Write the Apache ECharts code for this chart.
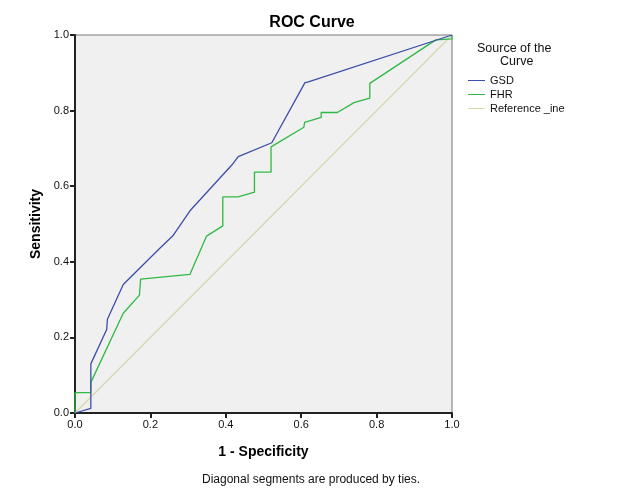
<!DOCTYPE html>
<html>
<head>
<meta charset="utf-8">
<script src="https://cdn.jsdelivr.net/npm/echarts@6/dist/echarts.min.js"></script>
<style>html,body{margin:0;padding:0;background:#fff;}#c{width:622px;height:498px;}</style>
</head>
<body>
<div id="c"></div>
<script>
const gsdX = [0, 0.042, 0.042, 0.084, 0.086, 0.128, 0.225, 0.259, 0.305, 0.416, 0.433, 0.522, 0.610, 0.619, 1];
const gsdY = [0, 0.012, 0.130, 0.221, 0.248, 0.340, 0.436, 0.468, 0.535, 0.656, 0.678, 0.715, 0.874, 0.876, 1];
const fhrX = [0, 0, 0.042, 0.042, 0.128, 0.171, 0.174, 0.305, 0.349, 0.392, 0.392, 0.433, 0.476, 0.476, 0.520, 0.520, 0.607, 0.609, 0.653, 0.653, 0.696, 0.740, 0.782, 0.782, 0.957, 1, 1];
const fhrY = [0, 0.054, 0.054, 0.081, 0.264, 0.312, 0.354, 0.367, 0.468, 0.495, 0.572, 0.572, 0.584, 0.637, 0.637, 0.704, 0.756, 0.769, 0.782, 0.795, 0.795, 0.821, 0.833, 0.872, 0.987, 0.990, 1];
const refX = [0, 1];
const refY = [0, 1];
const ticks = ['0.0', '0.2', '0.4', '0.6', '0.8', '1.0'];

const zip = (xs, ys) => xs.map((x, i) => [x, ys[i]]);
const font = 'Liberation Sans, Arial, sans-serif';
const chart = echarts.init(document.getElementById('c'), null, {renderer: 'canvas'});
const axisCommon = {
  type: 'value', min: 0, max: 1, interval: 0.2,
  axisLine: {show: true, lineStyle: {color: '#222', width: 2}},
  axisTick: {show: true, inside: false, length: 5, lineStyle: {color: '#222', width: 2}},
  axisLabel: {color: '#111', fontSize: 11, fontFamily: font, margin: 6,
    formatter: v => ticks[Math.round(v / 0.2)]},
  splitLine: {show: false},
  nameLocation: 'middle',
  nameTextStyle: {fontWeight: 'bold', fontSize: 14, color: '#000', fontFamily: font}
};
chart.setOption({
  animation: false,
  backgroundColor: '#fff',
  title: {text: 'ROC Curve', left: 307, textAlign: 'center', top: 10,
    textStyle: {fontSize: 16, fontWeight: 'bold', color: '#000', fontFamily: font}},
  grid: {left: 75, top: 35, width: 377, height: 378, show: true,
    backgroundColor: '#f0f0f0', borderColor: '#777', borderWidth: 1},
  xAxis: Object.assign({}, axisCommon, {name: '1 - Specificity', nameGap: 32}),
  yAxis: Object.assign({}, axisCommon, {name: 'Sensitivity', nameGap: 32}),
  legend: {
    orient: 'vertical', left: 463, top: 70, itemWidth: 17, itemHeight: 11, itemGap: 3,
    icon: 'path://M0,5 L17,5 L17,6 L0,6 Z',
    textStyle: {fontSize: 11, color: '#111', fontFamily: font},
    data: ['GSD', 'FHR', 'Reference _ine']
  },
  graphic: [
    {type: 'text', left: 477, top: 42, style: {text: 'Source of the', fontSize: 12.5, fill: '#111', fontFamily: font}},
    {type: 'text', left: 500, top: 55, style: {text: 'Curve', fontSize: 12.5, fill: '#111', fontFamily: font}},
    {type: 'text', left: 202, top: 474, style: {text: 'Diagonal segments are produced by ties.', fontSize: 12, fill: '#111', fontFamily: font}}
  ],
  series: [
    {name: 'Reference _ine', type: 'line', data: zip(refX, refY), symbol: 'none', color: '#d9d9b0',
      lineStyle: {width: 1.5, color: '#d9d9b0'}},
    {name: 'FHR', type: 'line', data: zip(fhrX, fhrY), symbol: 'none', color: '#2fb944',
      lineStyle: {width: 1.3, color: '#2fb944'}},
    {name: 'GSD', type: 'line', data: zip(gsdX, gsdY), symbol: 'none', color: '#3d4ea8',
      lineStyle: {width: 1.3, color: '#3d4ea8'}}
  ]
});
</script>
</body>
</html>
